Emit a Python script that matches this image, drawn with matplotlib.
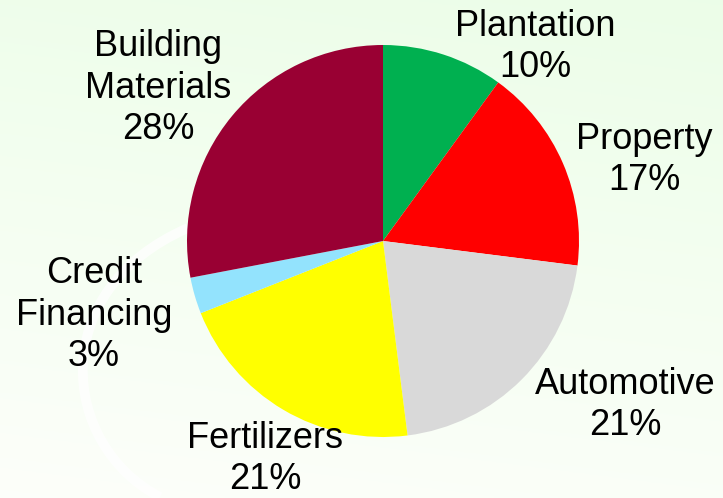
import matplotlib.pyplot as plt
import numpy as np
from matplotlib.path import Path
from matplotlib.patches import PathPatch

# business segments and their share of the total
segments = ["Plantation", "Property", "Automotive", "Fertilizers",
            "Credit\nFinancing", "Building\nMaterials"]
shares = [10, 17, 21, 21, 3, 28]
colors = ["#00b050", "#ff0000", "#d9d9d9", "#ffff00", "#93e3fd", "#990033"]

# where each label block sits (pixels from top-left)
label_pos = [(535, 47), (644, 160), (625, 405), (265, 459), (94, 315), (158, 88)]

W, H = 723, 498
fig = plt.figure(figsize=(W / 100, H / 100), dpi=100)
ax = fig.add_axes([0, 0, 1, 1])

# soft green background fading to white towards the bottom
yy = np.linspace(0, 1, 200)[:, None]
xx = np.linspace(0, 1, 200)[None, :]
t = np.clip(0.8 * yy + 0.15 * (1 - xx), 0, 1)
top = np.array([0.925, 0.995, 0.91])
bottom = np.array([0.995, 1.0, 0.985])
grad = top[None, None, :] * (1 - t[..., None]) + bottom[None, None, :] * t[..., None]
ax.imshow(grad, extent=(0, W, 0, H), origin="upper", aspect="auto", zorder=0)

# faint white swoosh behind the pie
verts = [(188, H - 228), (45, H - 290), (60, H - 445), (160, H - 497)]
swoosh = Path(verts, [Path.MOVETO, Path.CURVE4, Path.CURVE4, Path.CURVE4])
ax.add_patch(PathPatch(swoosh, fill=False, ec="white", lw=7, alpha=0.75, zorder=1))

ax.pie(shares, colors=colors, startangle=90, counterclock=False,
       center=(383, H - 241), radius=196,
       wedgeprops=dict(linewidth=0, zorder=2))

for name, v, (x, y) in zip(segments, shares, label_pos):
    ax.text(x, H - y, f"{name}\n{v}%", ha="center", va="center",
            fontsize=26, family="Liberation Sans", linespacing=1.23,
            color="black", zorder=3)

ax.set_xlim(0, W)
ax.set_ylim(0, H)
ax.set_aspect("auto")
ax.axis("off")

fig.savefig("out.png", dpi=100)
